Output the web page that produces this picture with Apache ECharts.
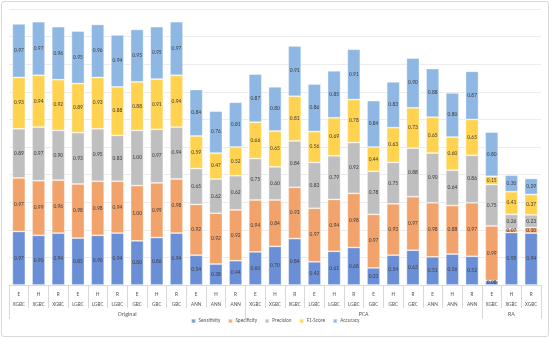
<!DOCTYPE html>
<html>
<head>
<meta charset="utf-8">
<script src="https://cdn.jsdelivr.net/npm/echarts@6/dist/echarts.min.js"></script>
<style>
html,body{margin:0;padding:0;background:#fff;}
#wrap{position:absolute;left:1px;top:1px;width:546px;height:334px;border:1px solid #d9d9d9;border-radius:3px;}
#c{position:absolute;left:0;top:0;width:550px;height:338px;}
</style>
</head>
<body>
<div id="wrap"></div>
<div id="c"></div>
<script>
// Category rows
const prefixes = ['E','H','R','E','H','R','E','H','R','E','H','R',
                  'E','H','R','E','H','R','E','H','R','E','H','R',
                  'E','H','R'];
const models = ['XGBC','XGBC','XGBC','LGBC','LGBC','LGBC','GBC','GBC','GBC','ANN','ANN','ANN',
                'XGBC','XGBC','XGBC','LGBC','LGBC','LGBC','GBC','GBC','GBC','ANN','ANN','ANN',
                'XGBC','XGBC','XGBC'];
const groups = ['Original','PCA','RA'];
const groupSizes = [12,12,3];

// Series values
const sensitivity = [0.97,0.90,0.94,0.85,0.90,0.94,0.80,0.86,0.94,0.54,0.38,0.44,
                     0.60,0.70,0.84,0.42,0.61,0.68,0.31,0.54,0.63,0.51,0.56,0.52,
                     0.08,0.95,0.94];
const specificity = [0.97,0.99,0.96,0.98,0.98,0.94,1.00,0.99,0.98,0.92,0.92,0.92,
                     0.94,0.84,0.93,0.97,0.94,0.98,0.97,0.93,0.97,0.98,0.88,0.97,
                     0.99,0.07,0.10];
const precision   = [0.89,0.97,0.90,0.93,0.95,0.83,1.00,0.97,0.94,0.65,0.62,0.62,
                     0.75,0.60,0.84,0.83,0.79,0.92,0.78,0.75,0.88,0.90,0.64,0.86,
                     0.75,0.26,0.23];
const f1score     = [0.93,0.94,0.92,0.89,0.93,0.88,0.88,0.91,0.94,0.59,0.47,0.52,
                     0.66,0.65,0.81,0.56,0.69,0.78,0.44,0.63,0.73,0.65,0.60,0.65,
                     0.15,0.41,0.37];
const accuracy    = [0.97,0.97,0.96,0.95,0.96,0.94,0.95,0.95,0.97,0.84,0.76,0.81,
                     0.87,0.80,0.91,0.86,0.85,0.91,0.84,0.83,0.90,0.88,0.80,0.87,
                     0.80,0.30,0.29];

const seriesNames = ['Sensitivity','Specificity','Precision','F1-Score','Accuracy'];
const seriesData = [sensitivity, specificity, precision, f1score, accuracy];
const colors = ['#6b8fd6','#f2a36c','#bfbfbf','#ffd34f','#8eb7e3'];

const cats = prefixes.map((p,i) => p + ' ' + models[i]);

// group boundaries and centers
const bounds = [0];
groupSizes.forEach(s => bounds.push(bounds[bounds.length-1] + s));
const centers = groupSizes.map((s,i) => bounds[i] + s/2);

const chart = echarts.init(document.getElementById('c'), null, {renderer:'canvas'});
const labelFont = 'Calibri, "Liberation Sans", "DejaVu Sans", sans-serif';

chart.setOption({
  animation:false,
  textStyle:{fontFamily:labelFont},
  grid:{left:9, right:9, top:9, bottom:53, containLabel:false},
  legend:{
    bottom:9, left:'center',
    itemWidth:4, itemHeight:4, itemGap:7,
    icon:'rect',
    textStyle:{fontSize:5.3, color:'#595959', fontFamily:labelFont, padding:[0,0,0,-2]},
    data:seriesNames
  },
  xAxis:[{
    type:'category',
    data:cats,
    position:'bottom',
    axisLine:{show:true, lineStyle:{color:'#d9d9d9'}},
    axisTick:{show:true, interval:0, length:23, lineStyle:{color:'#d9d9d9'}},
    axisLabel:{
      interval:0, fontSize:5.5, color:'#595959', margin:5, lineHeight:10,
      formatter:(v,i) => prefixes[i] + '\n' + models[i]
    },
    splitLine:{show:false}
  },{
    type:'value',
    min:0, max:27,
    position:'bottom',
    axisLine:{show:false},
    axisTick:{show:true, length:34, customValues:bounds, lineStyle:{color:'#d9d9d9'}},
    axisLabel:{
      show:true, fontSize:6, color:'#595959', margin:26,
      customValues:centers,
      formatter:(v) => { const k = centers.indexOf(v); return k>=0 ? groups[k] : ''; }
    },
    splitLine:{show:false}
  }],
  yAxis:{
    type:'value', min:0, max:5, interval:0.5,
    axisLabel:{show:false},
    axisLine:{show:false},
    axisTick:{show:false},
    splitLine:{lineStyle:{color:'#ececec', width:1}}
  },
  series: seriesNames.map((n,k) => ({
    name:n,
    type:'bar',
    stack:'total',
    xAxisIndex:0,
    barWidth:'66%',
    itemStyle:{color:colors[k], borderColor:'rgba(255,255,255,0.45)', borderWidth:0.8},
    label:{
      show:true, position:'inside', fontSize:5.5, color:'#404040',
      fontFamily:labelFont,
      formatter:p => p.value.toFixed(2)
    },
    data:seriesData[k]
  }))
});
</script>
</body>
</html>
